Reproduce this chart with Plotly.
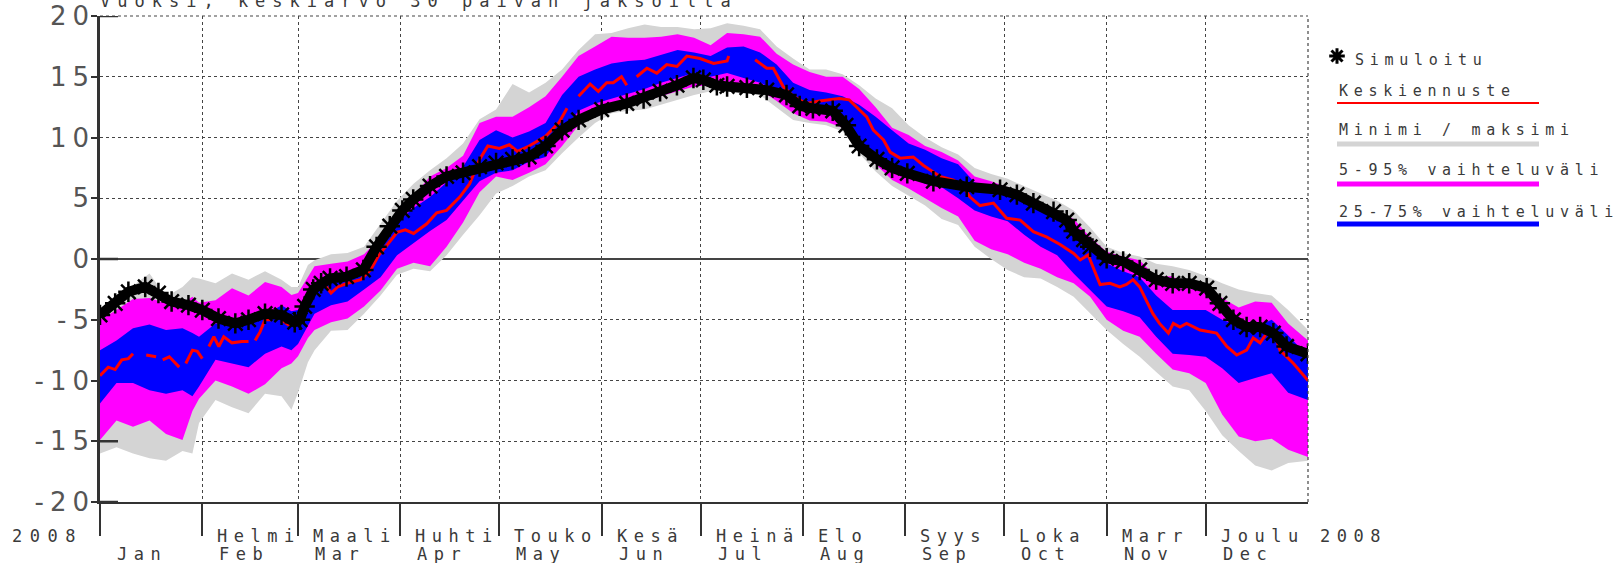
import plotly.graph_objects as go

# ---------------- data (day of year 2008, temperature) ----------------
band_days = [0, 5, 10, 15, 20, 25, 28, 30, 35, 40, 45, 50, 55, 58, 60, 63, 65, 70, 75, 80,
             85, 90, 95, 100, 105, 110, 115, 120, 125, 130, 135, 140, 145, 150, 155, 160,
             165, 170, 175, 180, 185, 190, 195, 200, 205, 210, 215, 220, 225, 230, 235,
             240, 245, 250, 255, 260, 265, 270, 275, 280, 285, 290, 295, 300, 305, 310,
             315, 320, 325, 330, 335, 340, 345, 350, 355, 360, 366]

min_vals = [-16.0, -15.5, -16.0, -16.4, -16.6, -15.8, -16.0, -13.5, -11.6, -12.2, -12.7, -11.1,
            -11.3, -12.4, -11.0, -8.5, -7.5, -5.9, -5.85, -4.5, -3.0, -1.3, -0.8, -1.0, 0.3,
            2.0, 3.6, 5.4, 6.0, 6.8, 7.3, 8.7, 10.0, 11.2, 12.0, 12.2, 12.3, 12.7, 13.1, 13.5,
            13.8, 13.8, 13.8, 13.5, 12.5, 11.45, 11.2, 11.0, 10.5, 8.7, 7.2, 6.0, 5.2, 4.4,
            3.3, 2.8, 1.0, 0.0, -0.9, -1.5, -1.6, -2.3, -3.1, -4.5, -5.85, -7.0, -8.05, -9.3,
            -10.5, -10.8, -12.5, -14.5, -15.8, -17.0, -17.4, -16.8, -16.6]
p05_vals = [-14.9, -13.3, -13.8, -13.3, -14.4, -14.9, -12.5, -11.5, -10.0, -10.5, -11.1, -10.3,
            -9.0, -8.6, -8.0, -6.5, -5.85, -5.2, -4.9, -3.9, -2.6, -0.8, -0.3, -0.6, 1.0, 3.0,
            5.5, 6.8, 6.5, 7.1, 7.8, 9.3, 11.0, 11.7, 12.3, 12.7, 13.0, 13.4, 13.8, 14.2, 14.3,
            14.2, 14.1, 13.9, 13.0, 12.0, 11.4, 11.3, 10.8, 9.3, 7.8, 6.5, 5.8, 5.0, 4.2, 3.5,
            1.5, 0.8, 0.4, -0.3, -0.8, -1.5, -2.0, -3.1, -5.0, -5.9, -6.4, -7.8, -9.1, -9.4,
            -10.2, -12.8, -14.6, -15.0, -14.8, -15.7, -16.3]
p25_vals = [-11.9, -10.2, -10.2, -10.8, -11.1, -10.8, -11.3, -10.5, -8.3, -8.6, -8.9, -7.8,
            -7.2, -7.5, -7.0, -5.5, -4.5, -3.8, -3.5, -2.5, -1.5, 0.3, 1.3, 2.3, 3.2, 4.8, 6.4,
            7.1, 7.3, 8.0, 8.4, 10.4, 12.2, 12.8, 13.2, 13.65, 14.0, 14.5, 14.9, 15.3, 15.0,
            15.3, 14.9, 14.5, 13.9, 13.1, 12.4, 12.0, 11.4, 9.8, 8.7, 7.6, 6.8, 6.2, 5.9, 5.0,
            4.0, 3.5, 3.1, 2.0, 1.0, 0.3, -1.2, -2.55, -3.9, -4.3, -4.8, -6.4, -7.8, -7.9,
            -8.05, -9.0, -10.2, -9.8, -9.4, -11.0, -11.6]
p75_vals = [-7.5, -6.7, -5.7, -5.4, -5.85, -5.7, -6.1, -6.4, -5.3, -5.3, -5.0, -4.6, -3.8,
            -4.3, -4.2, -3.0, -2.0, -1.6, -1.5, -0.8, 0.9, 3.0, 4.2, 5.1, 6.3, 7.6, 9.8, 10.6,
            10.0, 10.5, 11.2, 13.5, 15.0, 15.6, 16.1, 16.3, 16.4, 16.8, 17.2, 17.0, 16.7, 17.4,
            17.5, 17.0, 16.0, 14.5, 13.9, 13.7, 13.4, 12.7, 11.7, 10.6, 9.5, 9.0, 8.3, 7.8,
            6.3, 6.0, 5.7, 5.0, 4.0, 3.5, 2.3, 0.8, -0.35, -1.0, -1.5, -3.0, -4.2, -4.2, -4.2,
            -5.0, -5.5, -5.6, -5.0, -6.3, -8.0]
p95_vals = [-5.0, -4.2, -3.3, -3.2, -3.65, -3.65, -3.1, -3.6, -3.4, -2.4, -3.0, -1.9, -2.3,
            -2.97, -2.8, -1.5, -0.6, -0.4, -0.2, 0.4, 1.8, 3.9, 5.2, 6.8, 7.5, 8.5, 11.2, 11.7,
            11.7, 12.5, 13.4, 15.0, 16.7, 17.5, 18.3, 18.2, 18.2, 18.3, 18.5, 18.2, 17.6, 18.6,
            18.5, 18.3, 16.9, 16.0, 15.4, 15.0, 15.0, 14.0, 12.5, 10.8, 10.2, 9.3, 8.8, 8.1,
            6.8, 6.4, 5.9, 5.2, 4.6, 4.0, 3.3, 1.8, 0.6, 0.2, -0.1, -1.5, -1.4, -2.5, -2.3,
            -3.2, -4.0, -3.5, -3.6, -5.3, -6.7]
max_vals = [-4.7, -3.5, -2.2, -1.2, -3.1, -2.3, -1.5, -1.6, -2.0, -1.2, -1.7, -1.0, -1.7,
            -2.3, -2.3, -0.5, -0.1, 0.4, 0.5, 1.0, 2.9, 4.8, 6.2, 7.3, 8.3, 9.5, 11.5, 12.3,
            14.4, 13.7, 14.5, 15.6, 17.2, 18.5, 18.6, 19.0, 19.3, 19.1, 19.1, 18.9, 19.0, 19.4,
            19.2, 18.9, 17.5, 16.5, 15.6, 15.6, 15.2, 14.3, 13.2, 12.4, 11.0, 10.0, 9.2, 8.6,
            7.5, 7.0, 6.6, 6.0, 5.4, 4.8, 4.0, 2.6, 1.0, 0.5, 0.2, -0.4, -0.6, -0.9, -1.4,
            -2.0, -2.5, -2.8, -3.0, -4.2, -5.85]

mean_days = [0, 2.5, 4.6, 6.6, 8.6, 10, None, 14, 17, None, 19, 21, 24, None, 26, 28, 29.5, 31,
             None, 33, 34.5, 36, 37.5, 40, 43, 45, None, 47, 48.5, 50, 52, None, 55, 57, 59,
             None, 61, 63, 65, 68, 70, 72, 75, 79, 82, 84.5, 88, 90, 92.5, 95, 99, 102, 105,
             109, 112, 115, 117.5, 121, 124, 126.5, 130, 135, 139, 141.5, None, 145, 148.5,
             151, 153.5, 155.5, 158, 159.6, None, 162.6, 165.7, 168.7, 171.7, 174.8, 177.8,
             181.8, 185.9, 190, 190.5, None, 198.5, 202, 204, 207, 210, 214, 218, 222, 224,
             227, 230, 232.3, 234.3, 237.4, 239.4, 242.4, 246.4, 249.5, 254.5, 258.6, 261.6,
             263.6, 266.6, 270.7, 274.7, 278.8, 282.8, 286.9, 290.9, 295, 297, 299.4, 303,
             306, 309, 311, 313, 315, 317, 319, 321, 323.7, 325.2, 327.2, 329.2, 333.3, 338.3,
             341.4, 344.4, 347.4, 349.4, 351.5, 353.5, 355.5, 357.5, 361.6, 366]
mean_vals = [-9.6, -8.9, -9.1, -8.3, -8.2, -7.8, None, -7.9, -8.05, None, -8.3, -8.05, -8.9,
             None, -8.6, -7.5, -7.6, -8.2, None, -7.2, -6.4, -7.2, -6.4, -6.9, -6.8, -6.8, None,
             -6.7, -6.0, -5.0, -5.0, None, -5.0, -5.4, -5.0, None, -5.3, -3.1, -2.3, -2.1, -2.8,
             -2.3, -2.0, -1.7, -0.9, 0.33, 1.5, 2.2, 2.4, 2.1, 2.9, 3.8, 4.0, 5.1, 6.2, 8.2,
             9.3, 9.1, 9.4, 8.85, 9.3, 10.1, 11.2, 12.4, None, 13.4, 14.4, 13.8, 14.5, 14.5,
             15.0, 14.3, None, 15.0, 15.7, 15.3, 16.0, 15.85, 16.7, 16.5, 16.1, 16.3, 16.7,
             None, 16.4, 15.7, 15.7, 14.2, 13.4, 12.8, 13.0, 13.1, 13.2, 13.1, 12.3, 11.7,
             10.6, 9.8, 8.8, 8.3, 8.4, 7.7, 6.8, 6.5, 5.95, 5.1, 4.4, 4.6, 3.35, 3.2, 2.25,
             1.8, 1.2, 0.46, -0.08, 0.33, -2.1, -2.0, -2.3, -2.1, -1.7, -2.3, -3.4, -4.5, -5.3,
             -6.1, -5.3, -5.6, -5.3, -5.85, -6.1, -7.2, -7.9, -7.5, -6.5, -6.9, -6.1, -5.85,
             -7.5, -8.6, -10.0]

sim_days = [0, 4.6, 8.6, 13.7, 17.7, 21.7, 26.8, 31, 35.9, 41, 45, 50, 55, 59, 60.6, 62, 64.6,
            67, 69.7, 74.7, 79.8, 83.8, 87.8, 91.6, 94.9, 100, 105, 110, 115, 120, 125, 130,
            135, 140, 145, 152, 159.6, 164.7, 169.7, 174.8, 179.8, 182.8, 186.9, 190, 196,
            202, 208, 212, 216, 222, 226, 230, 235.4, 240, 244.6, 252.5, 262.6, 272.7, 277.8,
            282.8, 288.9, 292.9, 295, 298, 300, 305, 310, 315, 320, 325, 330, 335.3, 339.3,
            343.4, 347.4, 351.5, 355.5, 359.5, 366]
sim_vals = [-4.6, -3.65, -2.7, -2.3, -2.8, -3.5, -3.8, -4.2, -4.9, -5.3, -5.0, -4.5, -4.6, -5.2,
            -5.0, -3.9, -2.5, -2.0, -1.6, -1.45, -0.9, 1.0, 2.7, 4.0, 4.9, 6.0, 6.8, 7.1, 7.6,
            7.9, 8.2, 8.4, 9.3, 10.6, 11.45, 12.3, 12.8, 13.2, 13.8, 14.3, 14.9, 14.75, 14.3,
            14.2, 14.1, 13.9, 13.5, 12.6, 12.4, 12.2, 11.0, 9.3, 8.2, 7.5, 7.05, 6.4, 5.95,
            5.7, 5.3, 4.6, 3.9, 3.2, 2.3, 1.6, 1.0, 0.06, -0.2, -0.9, -1.7, -2.0, -2.0, -2.4,
            -3.65, -5.0, -5.6, -5.6, -6.1, -7.2, -7.8]

month_start = [0, 31, 60, 91, 121, 152, 182, 213, 244, 274, 305, 335]
months_fi = ["", "Helmi", "Maali", "Huhti", "Touko", "Kesä", "Heinä", "Elo", "Syys", "Loka",
             "Marr", "Joulu"]
months_en = ["Jan", "Feb", "Mar", "Apr", "May", "Jun", "Jul", "Aug", "Sep", "Oct", "Nov", "Dec"]
year_label = "2008"
y_ticks = [-20, -15, -10, -5, 0, 5, 10, 15, 20]
title_text = "Vuoksi, keskiarvo 30 päivän jaksoilta"
legend_names = ["Simuloitu", "Keskiennuste", "Minimi / maksimi", "5-95% vaihteluväli",
                "25-75% vaihteluväli"]

# ---------------- styling / layout helpers ----------------
W, H = 1624, 563
ML, MR, MT, MB = 100, 10, 16, 61
PW = W - ML - MR
PH = H - MT - MB
PLOT_RIGHT = 1308
XDOM = (PLOT_RIGHT - ML) / PW

def xp(px):
    return (px - ML) / PW

def yp(py):
    return (H - MB - py) / PH

MONO = "DejaVu Sans Mono"
TXT = "#3a3a3a"

def ls(text, px):
    # letter spacing between characters, none after the last one
    if len(text) < 2:
        return text
    return f'<span style="letter-spacing:{px}px">{text[:-1]}</span>{text[-1]}'

GRAY = "#d4d4d4"
MAG = "#ff00ff"
BLUE = "#0000ff"
RED = "#ff0000"

fig = go.Figure()

def band(lo, hi, color, name):
    fig.add_trace(go.Scatter(x=band_days, y=lo, mode="lines", line=dict(width=0, color=color),
                             showlegend=False, hoverinfo="skip"))
    fig.add_trace(go.Scatter(x=band_days, y=hi, mode="lines", line=dict(width=0, color=color),
                             fill="tonexty", fillcolor=color, name=name, showlegend=False))

band(min_vals, max_vals, GRAY, legend_names[2])
band(p05_vals, p95_vals, MAG, legend_names[3])
band(p25_vals, p75_vals, BLUE, legend_names[4])

fig.add_trace(go.Scatter(x=mean_days, y=mean_vals, mode="lines", connectgaps=False,
                         line=dict(color=RED, width=3), name=legend_names[1], showlegend=False))
fig.add_trace(go.Scatter(x=sim_days, y=sim_vals, mode="lines+markers",
                         line=dict(color="black", width=10),
                         marker=dict(symbol="asterisk-open", size=17, color="black",
                                     line=dict(width=2.5, color="black")),
                         name=legend_names[0], showlegend=False))

# legend marker on its own little axis
fig.add_trace(go.Scatter(x=[0.5], y=[0.5], mode="markers", xaxis="x2", yaxis="y2",
                         marker=dict(symbol="asterisk-open", size=13, color="black",
                                     line=dict(width=3, color="black")),
                         showlegend=False, hoverinfo="skip"))

annotations = []
# title (clipped at the top edge as in the original)
annotations.append(dict(text=ls(title_text, 7), x=xp(98), y=yp(13), xref="paper", yref="paper",
                        xanchor="left", yanchor="bottom", showarrow=False,
                        font=dict(family=MONO, size=17, color=TXT)))
# month labels
for d, fi, en in zip(month_start, months_fi, months_en):
    if fi:
        annotations.append(dict(text=ls(fi, 6.5), x=d, y=yp(536), xref="x", yref="paper",
                                xanchor="left", yanchor="middle", xshift=13, showarrow=False,
                                font=dict(family=MONO, size=17, color=TXT)))
    annotations.append(dict(text=ls(en, 6.5), x=d, y=yp(554), xref="x", yref="paper",
                            xanchor="left", yanchor="middle", xshift=15, showarrow=False,
                            font=dict(family=MONO, size=17, color=TXT)))
annotations.append(dict(text=ls(year_label, 7.5), x=xp(10), y=yp(536), xref="paper", yref="paper",
                        xanchor="left", yanchor="middle", showarrow=False,
                        font=dict(family=MONO, size=17, color=TXT)))
annotations.append(dict(text=ls(year_label, 6.5), x=xp(1318), y=yp(536), xref="paper",
                        yref="paper", xanchor="left", yanchor="middle", showarrow=False,
                        font=dict(family=MONO, size=17, color=TXT)))
# legend texts
leg_text_y = [60, 91, 130, 170, 212]
leg_text_x = [1353, 1337, 1337, 1337, 1337]
for name, tx, ty in zip(legend_names, leg_text_x, leg_text_y):
    annotations.append(dict(text=ls(name, 5.7), x=xp(tx), y=yp(ty), xref="paper", yref="paper",
                            xanchor="left", yanchor="middle", showarrow=False,
                            font=dict(family=MONO, size=15, color=TXT)))

shapes = []
leg_line_y = [103, 144, 184, 224]
leg_line_c = [RED, GRAY, MAG, BLUE]
leg_line_w = [2, 5, 5, 5]
for ly, lc, lw in zip(leg_line_y, leg_line_c, leg_line_w):
    shapes.append(dict(type="line", xref="paper", yref="paper", x0=xp(1337), x1=xp(1539),
                       y0=yp(ly), y1=yp(ly), line=dict(color=lc, width=lw)))
# right and top border (dotted)
shapes.append(dict(type="line", xref="paper", yref="paper", x0=XDOM, x1=XDOM, y0=0, y1=1,
                   line=dict(color="#444", width=1.2, dash="dot")))
shapes.append(dict(type="line", xref="paper", yref="paper", x0=0, x1=XDOM, y0=1, y1=1,
                   line=dict(color="#444", width=1.2, dash="dot")))
# short bold inner ticks at the left axis
for v in (20, 0, -15, -20):
    shapes.append(dict(type="line", xref="paper", yref="y", x0=0, x1=xp(118), y0=v, y1=v,
                       line=dict(color="#333", width=2.5)))

fig.update_layout(
    width=W, height=H,
    margin=dict(l=ML, r=MR, t=MT, b=MB, pad=0, autoexpand=False),
    paper_bgcolor="white", plot_bgcolor="white",
    showlegend=False,
    annotations=annotations,
    shapes=shapes,
    xaxis=dict(domain=[0, XDOM], range=[0, 366], tickvals=month_start, automargin=False,
               ticktext=[""] * len(month_start), ticks="outside", ticklen=32, tickwidth=1.5,
               tickcolor="#333", showgrid=True, gridcolor="#444", griddash="dot", gridwidth=1.2,
               showline=True, linecolor="#333", linewidth=2, zeroline=False, fixedrange=True),
    yaxis=dict(range=[-20, 20], tickvals=y_ticks, automargin=False,
               ticktext=[ls(str(v), 6) for v in y_ticks],
               tickfont=dict(family="DejaVu Sans", size=26, color="#555"),
               ticks="outside", ticklen=6, tickwidth=1.5, tickcolor="#333",
               ticklabelstandoff=-3,
               showgrid=True, gridcolor="#444", griddash="dot", gridwidth=1.2,
               zeroline=True, zerolinecolor="#444", zerolinewidth=1.5,
               showline=True, linecolor="#333", linewidth=2.5),
    xaxis2=dict(domain=[xp(1327), xp(1347)], range=[0, 1], visible=False, anchor="y2"),
    yaxis2=dict(domain=[yp(66), yp(46)], range=[0, 1], visible=False, anchor="x2"),
)

fig.write_html("out.html", config={"displayModeBar": False},
               post_script="document.body.style.margin='0';")
